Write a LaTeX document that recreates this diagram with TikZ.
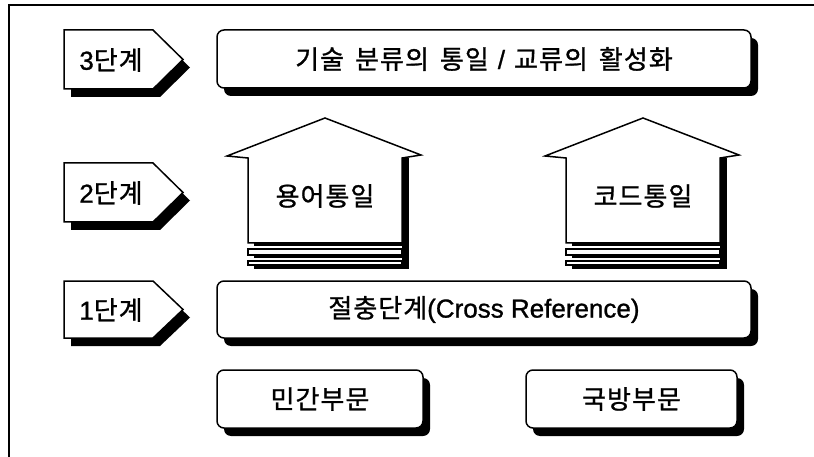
\documentclass[tikz,border=0pt]{standalone}
\usepackage{fontspec}
\setmainfont{Liberation Sans}
\newfontfamily\kr[FakeBold=1, LetterSpace=4]{Noto Sans CJK KR}
\newfontfamily\lat[FakeBold=1]{Liberation Sans}
\usetikzlibrary{shadows}
\newcommand\wsp{\hspace{11pt}}
\newcommand\nsp{\hspace{9pt}}
\begin{document}
\begin{tikzpicture}[x=1pt,y=-1pt,
  lw/.style={line width=1.5pt},
  sh/.style={fill=black},
  lbl/.style={font=\kr\fontsize{26}{30}\selectfont, inner sep=0pt},
  box/.style={draw, lw, fill=white, rounded corners=7pt, minimum height=58pt, inner sep=0pt,
     font=\kr\fontsize{26}{30}\selectfont,
     drop shadow={shadow xshift=7pt, shadow yshift=-8pt, fill=black, opacity=1}},
  tagshape/.style={draw, lw, fill=white, line join=miter},
  body/.style={draw, lw, fill=white, line join=miter}]
\useasboundingbox (0,0) rectangle (814,457);
% frame
\draw[line width=2pt] (814,5) -- (9,5) -- (9,457);

% stage tags
\fill[sh] (71,38) -- (160,38) -- (190,67.5) -- (160,97) -- (71,97) -- cycle;
\draw[tagshape] (64,30) -- (153,30) -- (183,59.5) -- (153,89) -- (64,89) -- cycle;
\node[lbl] (s3) at (111,60) {{\lat 3}단계};

\fill[sh] (71,171) -- (160,171) -- (190,200.5) -- (160,230) -- (71,230) -- cycle;
\draw[tagshape] (64,163) -- (153,163) -- (183,192.5) -- (153,222) -- (64,222) -- cycle;
\node[lbl] (s2) at (111,193) {{\lat 2}단계};

\fill[sh] (71,289) -- (160,289) -- (190,317.5) -- (160,346) -- (71,346) -- cycle;
\draw[tagshape] (64,281) -- (153,281) -- (183,309.5) -- (153,338) -- (64,338) -- cycle;
\node[lbl] (s1) at (111,310) {{\lat 1}단계};

% boxes
\node[box, minimum width=534pt] (top) at (484,59) {기술\wsp 분류의\wsp 통일\nsp{\lat /}\nsp 교류의\wsp 활성화\hspace{12pt}};
\node[box, minimum width=534pt, minimum height=57pt] (mid) at (484,309.5) {절충단계{\lat (Cross Reference)}};
\node[box, minimum width=206pt] (civ) at (320,399) {민간부문};
\node[box, minimum width=211pt] (def) at (631.5,399) {국방부문};

% arrows
\foreach \dx in {0,318} {
  \begin{scope}[xshift=\dx pt]
    \fill[sh] (402,158) rectangle (409,268);
    \fill[sh] (254,264) rectangle (409,268.5);
    \draw[lw, fill=white] (248,261) rectangle (402,265);
    \fill[sh] (254,252) rectangle (409,258);
    \draw[lw, fill=white] (248,249) rectangle (402,255);
    \fill[sh] (254,164) rectangle (409,246);
    \draw[body] (248,243) -- (248,158) -- (227,156) -- (325,118) -- (421,155) -- (402,158) -- (402,243) -- cycle;
  \end{scope}
}
\node[lbl] (a1) at (325,196) {용어통일};
\node[lbl] (a2) at (643,196) {코드통일};
\end{tikzpicture}
\end{document}
